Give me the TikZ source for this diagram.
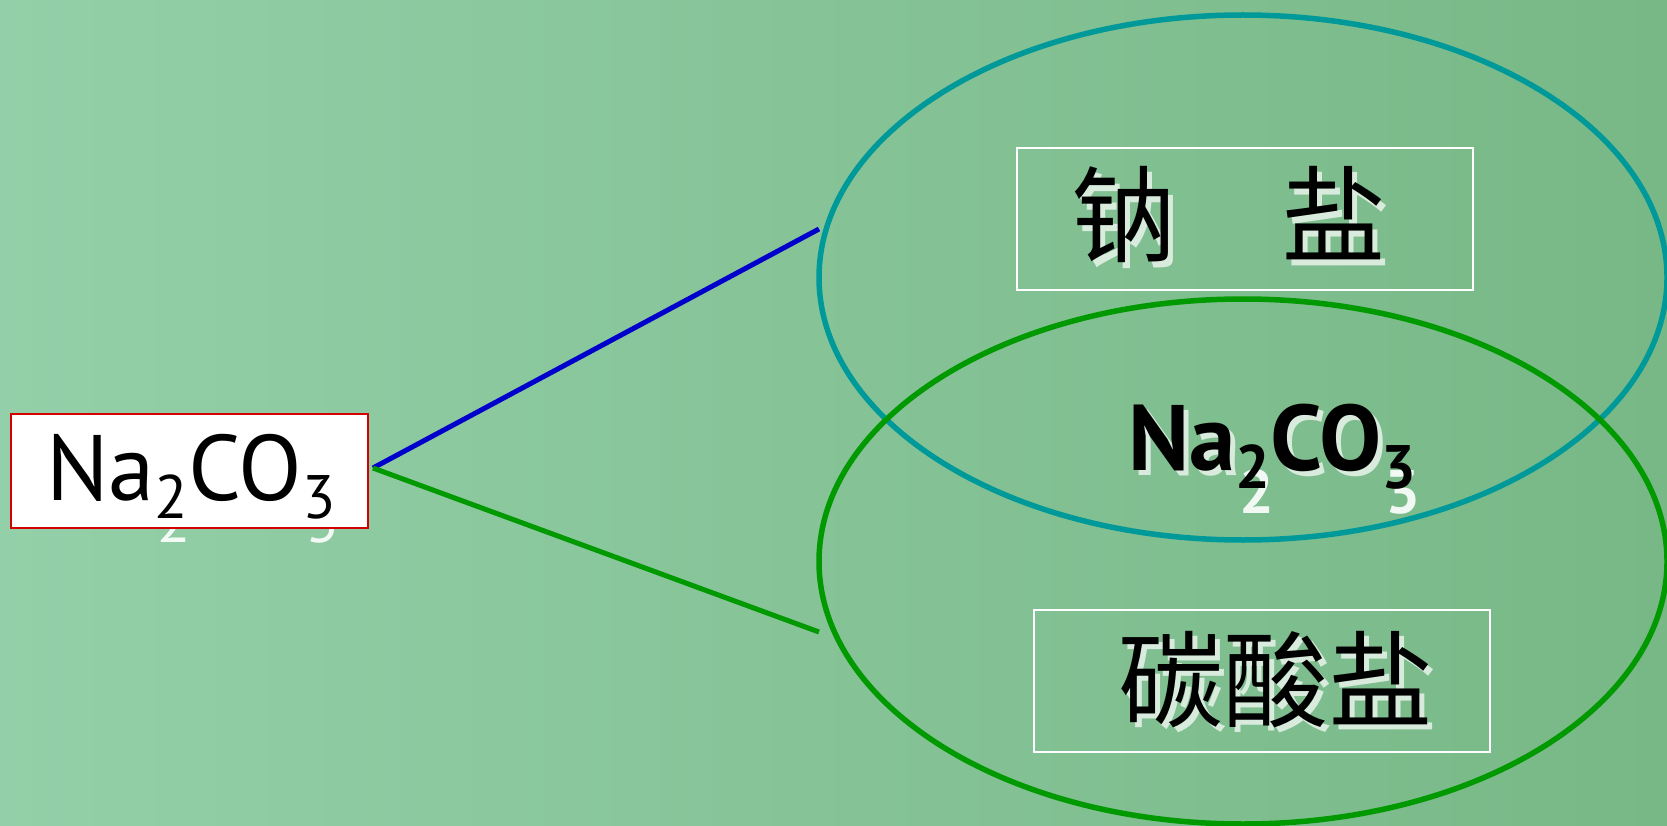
\documentclass[tikz,border=0pt]{standalone}
\usepackage{fontspec}
\usepackage{graphicx}
\usetikzlibrary{shapes.geometric}
\newfontfamily\cjk{Noto Sans CJK SC}
\newfontfamily\chemfont{PT Sans}
\definecolor{bgL}{RGB}{147,207,168}
\definecolor{bgR}{RGB}{120,184,134}
\definecolor{tealline}{RGB}{0,153,153}
\definecolor{greenline}{RGB}{0,153,0}
\definecolor{blueline}{RGB}{0,0,204}
\definecolor{redframe}{RGB}{210,0,0}
\newcommand\NaCO[1]{Na\raisebox{#1}{\scalebox{0.66}{2}}CO\raisebox{#1}{\scalebox{0.66}{3}}}
\newcommand\NaCOsub[1]{\phantom{Na}\raisebox{#1}{\scalebox{0.66}{2}}\phantom{CO}\raisebox{#1}{\scalebox{0.66}{3}}}
\begin{document}
\begin{tikzpicture}[x=1pt,y=-1pt,
  ring/.style={ellipse, draw, line width=5.5pt, minimum width=848pt, minimum height=525pt, inner sep=0pt},
  link/.style={line width=5pt},
  labelbox/.style={draw=white, line width=1.8pt, inner sep=0pt},
  cjktext/.style={inner sep=0pt, font=\cjk\fontsize{105}{110}\selectfont},
  chemtext/.style={inner sep=0pt, anchor=base, font=\chemfont\fontsize{93}{100}\selectfont},
  boldchem/.style={chemtext, font=\chemfont\bfseries\fontsize{93}{100}\selectfont},
  shadowtext/.style={text=white, opacity=0.7}]
\useasboundingbox (0,0) rectangle (1667,826);
\shade[left color=bgL, right color=bgR] (0,0) rectangle (1667,826);
% ellipses
\node[ring, draw=tealline] (sodium) at (1243,277.5) {};
\node[ring, draw=greenline] (carbonate) at (1243,561.5) {};
% left subscript shadows peeking below the box
\node[chemtext, shadowtext, opacity=0.9] (leftsubshadow) at (194,500) {\NaCOsub{\dimexpr-0.2em-24pt\relax}};
% left formula box
\node[draw=redframe, fill=white, line width=1.8pt, minimum width=357pt, minimum height=114pt, inner sep=0pt] (formula) at (189.5,471) {};
\node[chemtext] (formulatext) at (191,500) {\NaCO{-0.2em}};
% connectors
\coordinate (fork) at (373,468);
\coordinate (topend) at (819,229);
\coordinate (botend) at (819,632);
\draw[link, blueline] (fork) -- (topend);
\draw[link, greenline] (fork) -- (botend);
% label boxes
\node[labelbox, minimum width=456pt, minimum height=142pt] (sodiumbox) at (1245,219) {};
\node[labelbox, minimum width=456pt, minimum height=142pt] (carbonatebox) at (1262,681) {};
% labels with shadows
\node[cjktext, shadowtext] (sodiumshadow) at (1234,220) {钠\hspace{1em}盐};
\node[cjktext] (sodiumlabel) at (1229,214.5) {钠\hspace{1em}盐};
\node[cjktext, shadowtext] (carbonateshadow) at (1281,685) {碳酸盐};
\node[cjktext] (carbonatelabel) at (1276,679.5) {碳酸盐};
% center formula
\node[boldchem, shadowtext] (centershadow) at (1277.5,475) {Na\phantom{\scalebox{0.66}{2}}CO\phantom{\scalebox{0.66}{3}}};
\node[boldchem, shadowtext, opacity=0.9] (centersubshadow) at (1276.5,470) {\NaCOsub{\dimexpr-0.2em-25pt\relax}};
\node[boldchem] (centerformula) at (1272.5,470) {\NaCO{-0.2em}};
\end{tikzpicture}
\end{document}
